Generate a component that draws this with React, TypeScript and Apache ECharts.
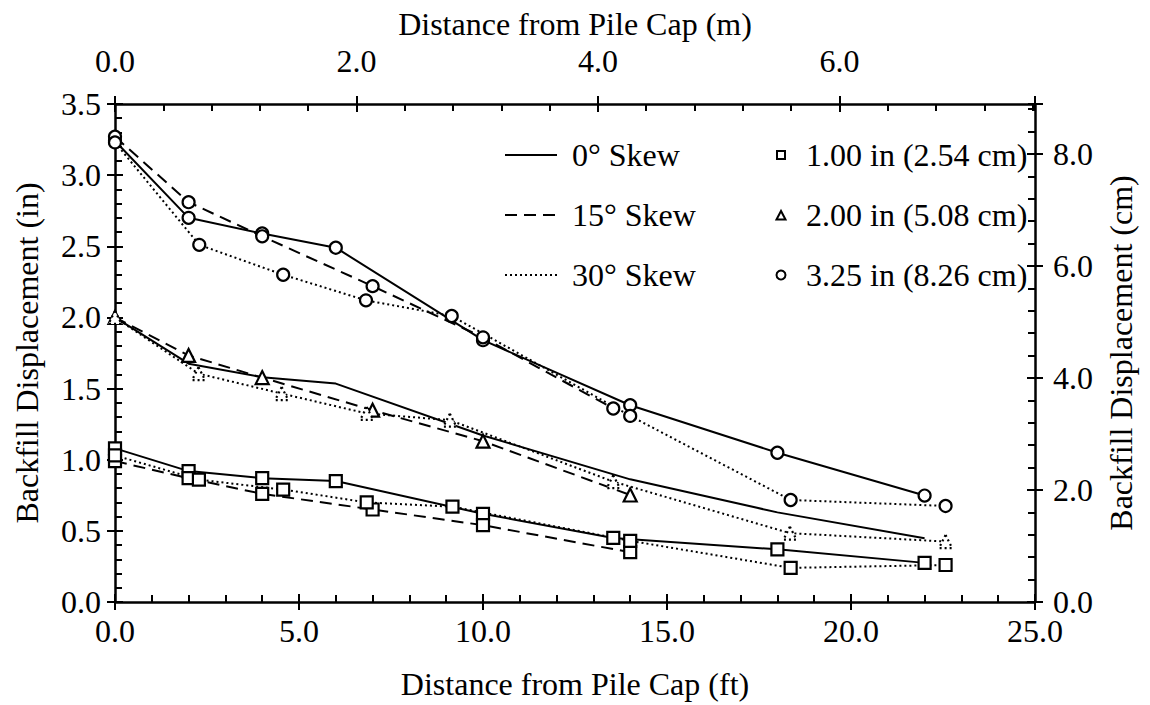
import React, { useEffect, useRef } from 'react';
import * as echarts from 'echarts';

const FONT = "'Liberation Serif', 'Times New Roman', serif";
const FS = 32;

// Distances (ft) and displacements (in)
const sq0X = [0, 2, 4, 6, 10, 13.54, 18, 22];
const sq0Y = [1.08, 0.92, 0.87, 0.85, 0.62, 0.45, 0.37, 0.275];
const sq15X = [0, 2, 4, 7, 10, 14];
const sq15Y = [0.99, 0.87, 0.76, 0.65, 0.54, 0.35];
const sq30X = [0, 2.28, 4.57, 6.84, 9.17, 14, 18.36, 22.57];
const sq30Y = [1.03, 0.86, 0.79, 0.7, 0.67, 0.43, 0.24, 0.26];

const tri0X = [0, 2, 4, 6, 10, 14, 18, 22];
const tri0Y = [2.0, 1.675, 1.58, 1.535, 1.17, 0.862, 0.63, 0.448];
const tri15X = [0, 2, 4, 7, 10, 14];
const tri15Y = [2.0, 1.733, 1.577, 1.348, 1.13, 0.752];
const tri30X = [0, 2.27, 4.53, 6.84, 9.1, 13.54, 18.34, 22.57];
const tri30Y = [2.0, 1.605, 1.465, 1.325, 1.278, 0.846, 0.484, 0.425];

const cir0X = [0, 2, 4, 6, 10, 14, 18, 22];
const cir0Y = [3.24, 2.7, 2.59, 2.49, 1.84, 1.383, 1.049, 0.748];
const cir15X = [0, 2, 4, 7, 10, 13.54];
const cir15Y = [3.27, 2.81, 2.57, 2.22, 1.86, 1.36];
const cir30X = [0, 2.29, 4.57, 6.82, 9.15, 14, 18.36, 22.57];
const cir30Y = [3.23, 2.51, 2.3, 2.12, 2.01, 1.308, 0.717, 0.675];

const skewLabels = ['0° Skew', '15° Skew', '30° Skew'];
const dispLabels = ['1.00 in (2.54 cm)', '2.00 in (5.08 cm)', '3.25 in (8.26 cm)'];

const FT_MAX = 25;
const IN_MAX = 3.5;
const M_MAX = FT_MAX * 0.3048;
const CM_MAX = IN_MAX * 2.54;

const zip = (xs: number[], ys: number[]) => xs.map((x, i) => [x, ys[i]]);

const DASH = [12, 7];
const DOT = [2, 3];

const txt = { fontFamily: FONT, fontSize: FS, color: '#000' };
const tickStyle = { color: '#000', width: 2 };

function mkSeries(name: string, data: number[][], symbol: string, size: number, lineType: any, markerDotted = false) {
  return {
    type: 'line',
    name,
    data,
    xAxisIndex: 0,
    yAxisIndex: 0,
    symbol,
    symbolSize: size,
    showSymbol: symbol !== 'none',
    lineStyle: { color: '#000', width: 2, type: lineType },
    itemStyle: {
      color: '#fff',
      borderColor: '#000',
      borderWidth: 2.2,
      borderType: markerDotted ? DOT : 'solid',
    },
    emphasis: { disabled: true },
    z: 3,
  };
}

const isMult = (v: number, m: number) => Math.abs(v / m - Math.round(v / m)) < 1e-6;

export default function App() {
  const ref = useRef<HTMLDivElement>(null);
  useEffect(() => {
    if (!ref.current) return;
    const chart = echarts.init(ref.current, undefined, { renderer: 'svg' });
    const lineStyle = { color: '#000', width: 2.5 };
    const noLine = { show: false, onZero: false };
    const option: any = {
      animation: false,
      backgroundColor: '#fff',
      grid: { left: 115, right: 115, top: 104, bottom: 101, containLabel: false },
      xAxis: [
        {
          type: 'value', position: 'bottom', min: 0, max: FT_MAX, interval: 5,
          axisLine: { show: true, onZero: false, lineStyle },
          axisTick: { show: true, inside: true, length: 8, lineStyle: tickStyle },
          minorTick: { show: true, splitNumber: 5, length: 7, lineStyle: tickStyle },
          splitLine: { show: false },
          axisLabel: { ...txt, margin: 13, formatter: (v: number) => v.toFixed(1) },
          name: 'Distance from Pile Cap (ft)', nameLocation: 'middle', nameGap: 66,
          nameTextStyle: { ...txt },
        },
        {
          type: 'value', position: 'bottom', min: 0, max: FT_MAX, interval: 5,
          axisLine: noLine,
          axisTick: { show: true, inside: false, length: 8, lineStyle: tickStyle },
          splitLine: { show: false }, axisLabel: { show: false },
        },
        {
          type: 'value', position: 'top', min: 0, max: M_MAX, interval: 0.4,
          axisLine: { show: true, onZero: false, lineStyle },
          axisTick: { show: true, inside: true, length: 7, lineStyle: tickStyle },
          splitLine: { show: false }, axisLabel: { show: false },
        },
        {
          type: 'value', position: 'top', min: 0, max: M_MAX, interval: 2,
          axisLine: noLine,
          axisTick: { show: true, inside: true, length: 8, lineStyle: tickStyle },
          splitLine: { show: false },
          axisLabel: {
            ...txt, margin: 27, showMaxLabel: false,
            formatter: (v: number) => (isMult(v, 2) ? v.toFixed(1) : ''),
          },
          name: 'Distance from Pile Cap (m)', nameLocation: 'middle', nameGap: 64,
          nameTextStyle: { ...txt },
        },
        {
          type: 'value', position: 'top', min: 0, max: M_MAX, interval: 2,
          axisLine: noLine,
          axisTick: { show: true, inside: false, length: 8, lineStyle: tickStyle },
          splitLine: { show: false }, axisLabel: { show: false },
        },
      ],
      yAxis: [
        {
          type: 'value', position: 'left', min: 0, max: IN_MAX, interval: 0.5,
          axisLine: { show: true, onZero: false, lineStyle },
          axisTick: { show: true, inside: true, length: 8, lineStyle: tickStyle },
          minorTick: { show: true, splitNumber: 5, length: 7, lineStyle: tickStyle },
          splitLine: { show: false },
          axisLabel: { ...txt, margin: 14, formatter: (v: number) => v.toFixed(1) },
          name: 'Backfill Displacement (in)', nameLocation: 'middle', nameGap: 72,
          nameTextStyle: { ...txt },
        },
        {
          type: 'value', position: 'left', min: 0, max: IN_MAX, interval: 0.5,
          axisLine: noLine,
          axisTick: { show: true, inside: false, length: 8, lineStyle: tickStyle },
          splitLine: { show: false }, axisLabel: { show: false },
        },
        {
          type: 'value', position: 'right', min: 0, max: CM_MAX, interval: 0.4,
          axisLine: { show: true, onZero: false, lineStyle },
          axisTick: { show: true, inside: true, length: 7, lineStyle: tickStyle },
          splitLine: { show: false }, axisLabel: { show: false },
        },
        {
          type: 'value', position: 'right', min: 0, max: CM_MAX, interval: 2,
          axisLine: noLine,
          axisTick: { show: true, inside: true, length: 8, lineStyle: tickStyle },
          splitLine: { show: false },
          axisLabel: {
            ...txt, margin: 18, showMaxLabel: false,
            formatter: (v: number) => (isMult(v, 2) ? v.toFixed(1) : ''),
          },
          name: 'Backfill Displacement (cm)', nameLocation: 'middle', nameGap: 70,
          nameRotate: 90,
          nameTextStyle: { ...txt },
        },
        {
          type: 'value', position: 'right', min: 0, max: CM_MAX, interval: 2,
          axisLine: noLine,
          axisTick: { show: true, inside: false, length: 8, lineStyle: tickStyle },
          splitLine: { show: false }, axisLabel: { show: false },
        },
      ],
      series: [
        mkSeries('sq0', zip(sq0X, sq0Y), 'rect', 12, 'solid'),
        mkSeries('sq15', zip(sq15X, sq15Y), 'rect', 12, DASH),
        mkSeries('sq30', zip(sq30X, sq30Y), 'rect', 12, DOT),
        mkSeries('tri0', zip(tri0X, tri0Y), 'none', 12, 'solid'),
        mkSeries('tri15', zip(tri15X, tri15Y), 'triangle', 13, DASH),
        mkSeries('tri30', zip(tri30X, tri30Y), 'triangle', 13, DOT, true),
        mkSeries('cir0', zip(cir0X, cir0Y), 'circle', 12, 'solid'),
        mkSeries('cir15', zip(cir15X, cir15Y), 'circle', 12, DASH),
        mkSeries('cir30', zip(cir30X, cir30Y), 'circle', 12, DOT),
      ],
      graphic: [
        ...['solid', DASH, DOT].map((t: any, i) => ({
          type: 'line', z: 10,
          shape: { x1: 505, y1: 155 + i * 60, x2: 557, y2: 155 + i * 60 },
          style: { stroke: '#000', lineWidth: 2, lineDash: t === 'solid' ? null : t },
        })),
        ...skewLabels.map((s, i) => ({
          type: 'text', z: 10, x: 572, y: 155 + i * 60,
          style: { text: s, fill: '#000', font: `${FS}px ${FONT}`, verticalAlign: 'middle' },
        })),
        {
          type: 'rect', z: 10, shape: { x: 777, y: 151, width: 8, height: 8 },
          style: { fill: '#fff', stroke: '#000', lineWidth: 2 },
        },
        {
          type: 'polygon', z: 10, shape: { points: [[781, 211], [776.5, 219.5], [785.5, 219.5]] },
          style: { fill: '#fff', stroke: '#000', lineWidth: 2 },
        },
        {
          type: 'circle', z: 10, shape: { cx: 781, cy: 275, r: 4.5 },
          style: { fill: '#fff', stroke: '#000', lineWidth: 2 },
        },
        ...dispLabels.map((s, i) => ({
          type: 'text', z: 10, x: 806, y: 155 + i * 60,
          style: { text: s, fill: '#000', font: `${FS}px ${FONT}`, verticalAlign: 'middle' },
        })),
      ],
    };
    chart.setOption(option);
    return () => chart.dispose();
  }, []);
  return <div ref={ref} style={{ position: 'absolute', left: 0, top: 0, width: 1150, height: 705 }} />;
}
